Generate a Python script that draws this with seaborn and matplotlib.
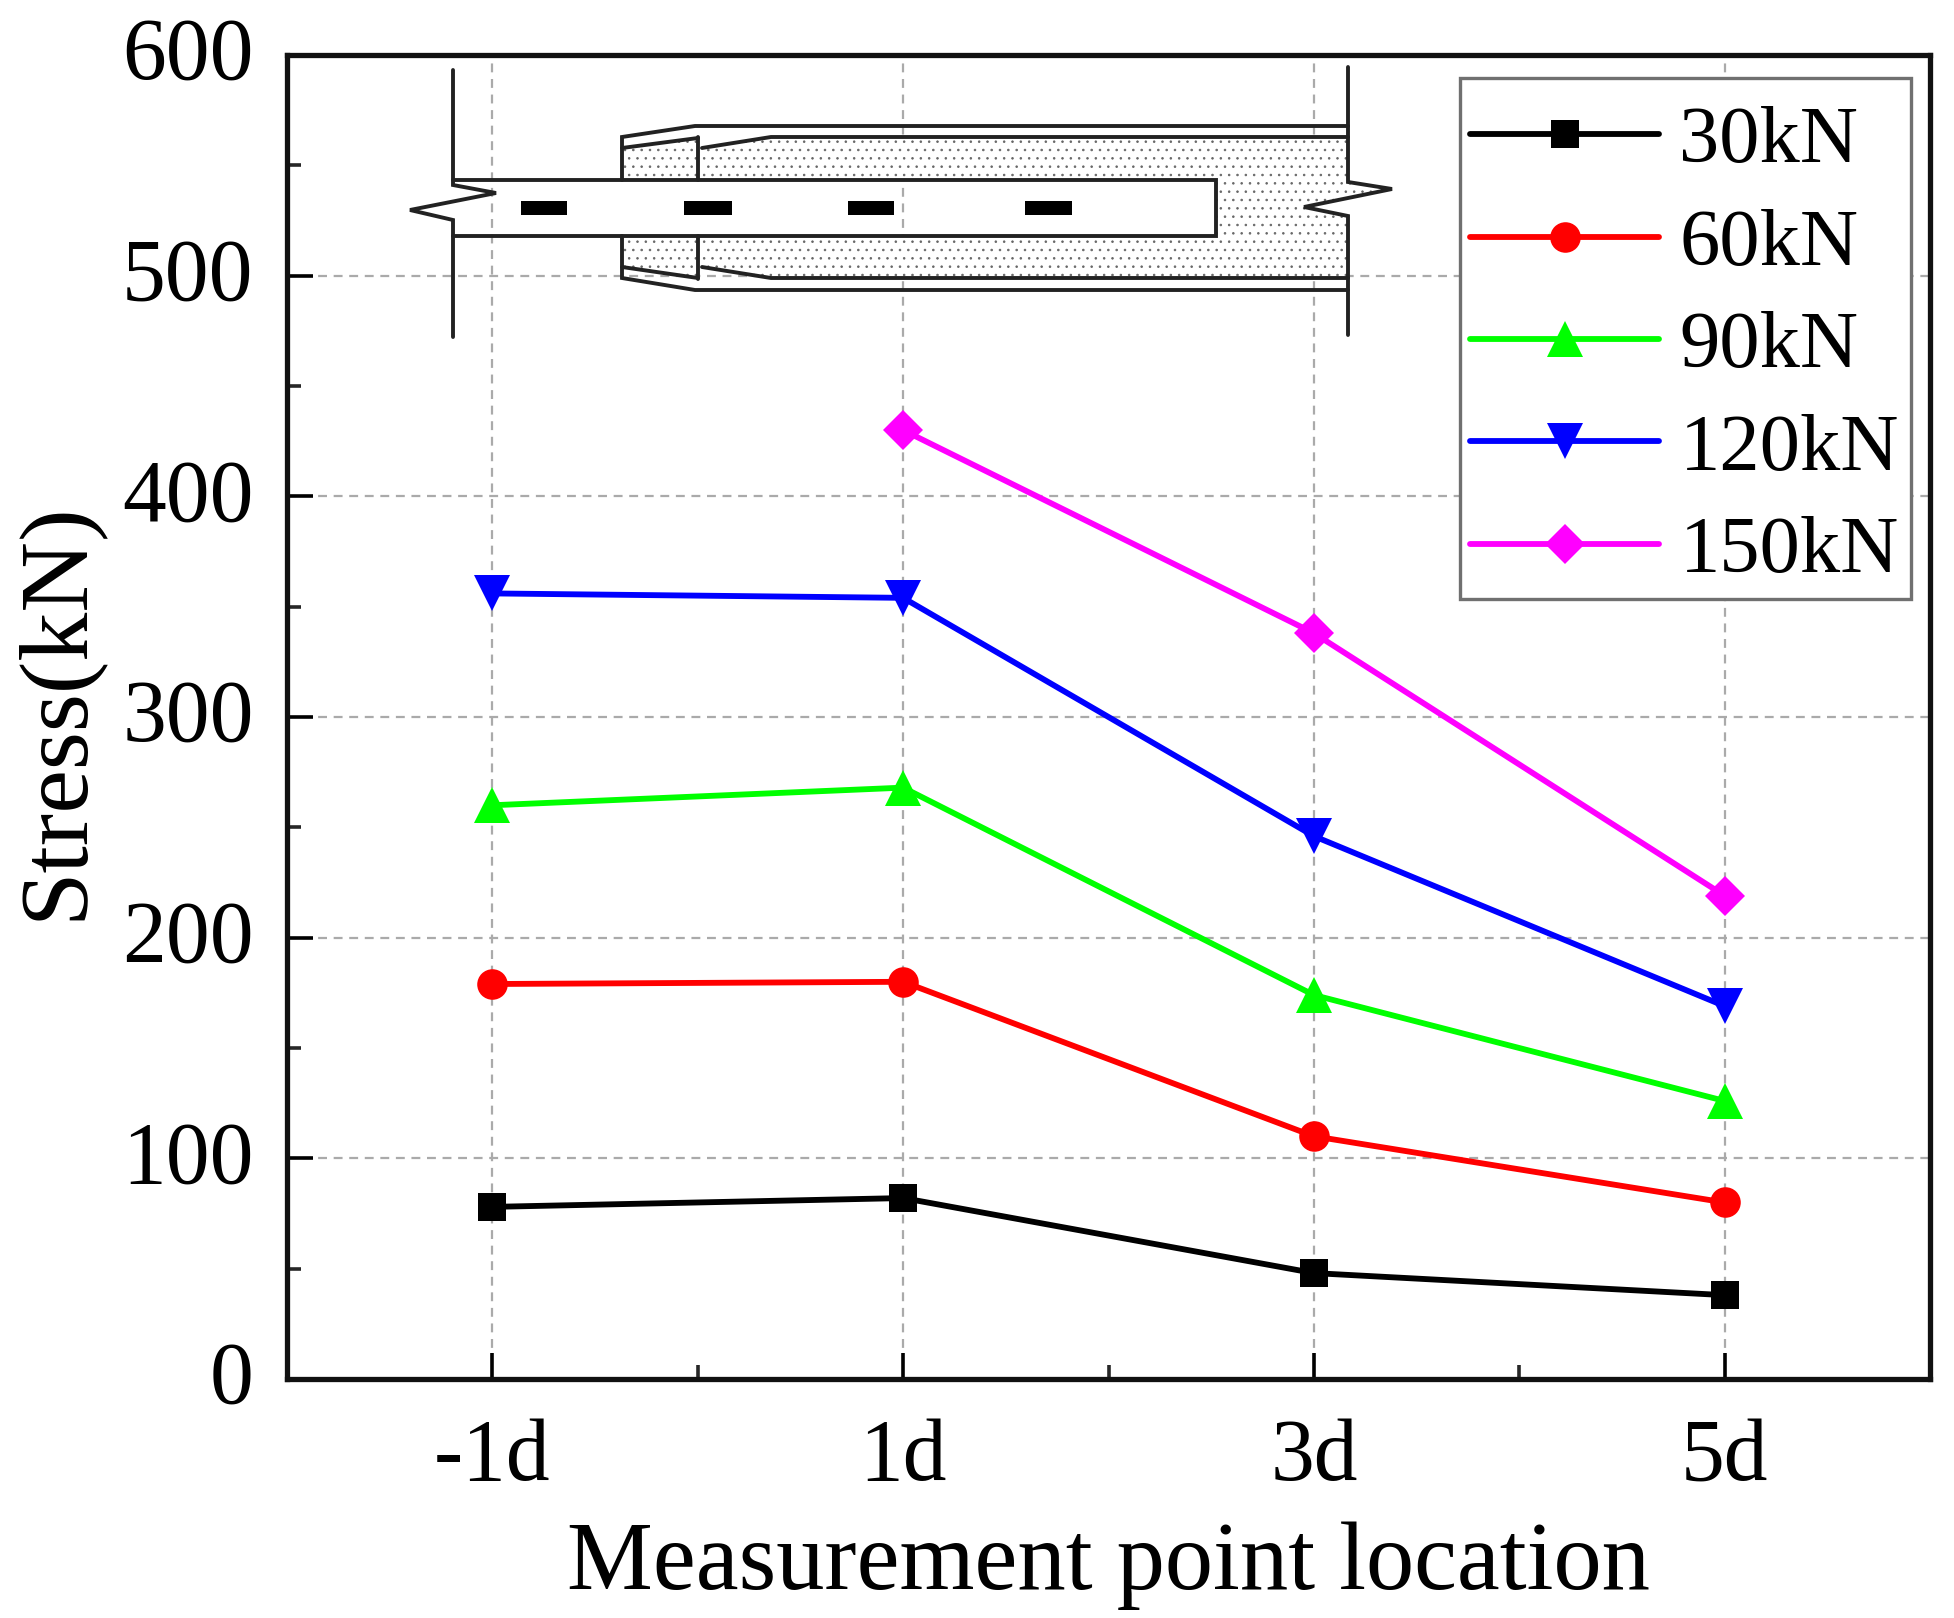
import numpy as np
import pandas as pd
import matplotlib
matplotlib.use('Agg')
import matplotlib.pyplot as plt
from matplotlib.patches import Polygon, Rectangle
from matplotlib.transforms import ScaledTranslation
import seaborn as sns

# values
locations = ['-1d', '1d', '3d', '5d']
loads = ['30kN', '60kN', '90kN', '120kN', '150kN']
stress_30 = [78, 82, 48, 38]
stress_60 = [179, 180, 110, 80]
stress_90 = [260, 268, 174, 126]
stress_120 = [356, 354, 246, 169]
stress_150 = [np.nan, 430, 338, 219]
colors = ['#000000', '#ff0000', '#00ff00', '#0000ff', '#ff00ff']
markers = ['s', 'o', '^', 'v', 'D']
marker_sizes = [20.5, 22, 25.5, 25.5, 20]

sns.set_theme(style="ticks", rc={"text.color": "black", "axes.labelcolor": "black"})
plt.rcParams['font.family'] = ['Liberation Serif', 'DejaVu Serif']
plt.rcParams['hatch.linewidth'] = 0.6

W, H = 1954, 1618
fig = plt.figure(figsize=(W / 100, H / 100), dpi=100, facecolor='white')
ax = fig.add_axes([287 / W, 1 - 1379 / H, (1930 - 287) / W, (1379 - 55) / H])

series = [stress_30, stress_60, stress_90, stress_120, stress_150]
for load, vals, c, m, ms in zip(loads, series, colors, markers, marker_sizes):
    df = pd.DataFrame({'pos': range(len(locations)), 'stress': vals})
    sns.lineplot(data=df, x='pos', y='stress', ax=ax, color=c, marker=m, markersize=ms,
                 markeredgewidth=0, linewidth=4.2, label=load, zorder=3)

ax.set_xlim(-0.5, 3.5)
ax.set_ylim(0, 600)
ax.set_xticks(range(len(locations)))
ax.set_xticklabels(locations)
ax.set_xticks(np.arange(0.5, 3, 1), minor=True)
ax.set_yticks(np.arange(0, 601, 100))
ax.set_yticks(np.arange(50, 600, 100), minor=True)
ax.tick_params(axis='both', which='major', direction='in', length=19, width=2.6, labelsize=63, colors='black')
ax.tick_params(axis='both', which='minor', direction='in', length=10, width=2.6)
ax.tick_params(axis='x', which='major', pad=28)
ax.tick_params(axis='y', which='major', pad=24)
ax.grid(True, which='major', color='#aaaaaa', linestyle=(0, (4, 3)), linewidth=1.6)
ax.set_axisbelow(True)
for sp in ax.spines.values():
    sp.set_linewidth(3.8)
    sp.set_color('#111111')

# y tick numbers sit a little above their ticks in the original
nudge = ScaledTranslation(0, 7 / 100, fig.dpi_scale_trans)
for lab in ax.get_yticklabels():
    lab.set_transform(lab.get_transform() + nudge)

ax.set_xlabel('Measurement point location', fontsize=69.5)
ax.xaxis.set_label_coords(0.5, -0.108)
ax.set_ylabel('Stress(kN)', fontsize=70.5)
ax.yaxis.set_label_coords(-0.113, 0.505)

# legend box is drawn separately because its padding is uneven
ax.add_patch(Rectangle((1460 / W, 1 - 599 / H), 451 / W, 521 / H, transform=fig.transFigure,
                       facecolor='white', edgecolor='#707070', linewidth=2.4, zorder=4))
leg = ax.legend(loc='upper left', bbox_to_anchor=((1470 - 287) / 1643, 1 - (106 - 55) / 1324),
                fontsize=58, frameon=False, borderaxespad=0, borderpad=0,
                handlelength=2.35, handletextpad=0.25, labelspacing=0.36)

# connection sketch, drawn in image pixels
sk = fig.add_axes([0, 0, 1, 1], zorder=5)
sk.set_xlim(0, W)
sk.set_ylim(H, 0)
sk.axis('off')
sk.patch.set_alpha(0)

concrete = [
    [(622, 148), (698, 138), (698, 180), (622, 180)],
    [(622, 235), (698, 235), (698, 279), (622, 267)],
    [(702, 148), (771, 137), (1348, 137), (1348, 182), (1392, 189), (1304, 207), (1348, 216),
     (1348, 278), (771, 278), (702, 267), (702, 235), (1216, 235), (1216, 180), (702, 180)],
]
for pts in concrete:
    sk.add_patch(Polygon(pts, closed=True, facecolor='white', edgecolor='#666666', linewidth=0, hatch='..'))

ink = '#222222'
paths = [
    [(453, 70), (453, 185), (496, 193), (410, 210), (453, 220), (453, 337)],
    [(1348, 67), (1348, 182), (1392, 189), (1304, 207), (1348, 216), (1348, 335)],
    [(453, 180), (1216, 180), (1216, 236), (453, 236)],
    [(622, 180), (622, 137), (695, 126), (1348, 126)],
    [(622, 148), (698, 138)],
    [(698, 180), (698, 137)],
    [(702, 148), (771, 137), (1348, 137)],
    [(622, 236), (622, 278), (695, 290), (1348, 290)],
    [(622, 267), (698, 278)],
    [(698, 236), (698, 279)],
    [(702, 267), (771, 278), (1348, 278)],
]
for p in paths:
    xs, ys = zip(*p)
    sk.plot(xs, ys, color=ink, linewidth=2.8, solid_joinstyle='miter')
for x0, x1 in [(521, 567), (684, 732), (848, 894), (1025, 1072)]:
    sk.add_patch(Rectangle((x0, 201), x1 - x0, 14, facecolor='black', edgecolor='none'))

fig.savefig('out.png', dpi=100)
